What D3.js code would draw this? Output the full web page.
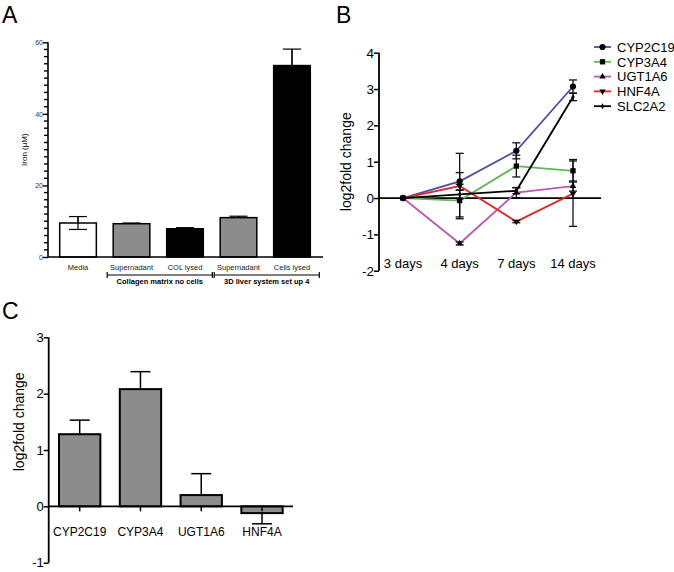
<!DOCTYPE html>
<html><head><meta charset="utf-8">
<script src="https://cdn.jsdelivr.net/npm/d3@7"></script>
<style>body{margin:0;background:#fff}svg{font-family:"Liberation Sans",Arial,sans-serif}</style>
</head><body>
<svg id="c" width="674" height="572"></svg>
<script>
// Panel A data
const aCategories = ["Media","Supernadant","COL lysed","Supernadant","Cells lysed"];
const aValues = [9.5, 9.3, 7.9, 11.0, 53.5];
const aErrors = [1.8, 0.2, 0.3, 0.4, 4.6];
const aFills = ["#ffffff","#8c8c8c","#000000","#8c8c8c","#000000"];
const aGroups = [{label:"Collagen matrix no cells", from:1, to:2},{label:"3D liver system set up 4", from:3, to:4}];
const aTicks = [0,20,40,60];

// Panel B data
const bDays = ["3 days","4 days","7 days","14 days"];
const bSeries = ["CYP2C19","CYP3A4","UGT1A6","HNF4A","SLC2A2"];
const bCYP2C19 = [0, 0.46, 1.30, 3.07];
const bCYP3A4 = [0, -0.07, 0.88, 0.75];
const bUGT1A6 = [0, -1.25, 0.15, 0.33];
const bHNF4A = [0, 0.33, -0.65, 0.12];
const bSLC2A2 = [0, 0.10, 0.20, 2.78];
const bErrCYP2C19 = [0, 0.24, 0.22, 0.18];
const bErrCYP3A4 = [0, 0.45, 0.30, 0.31];
const bErrUGT1A6 = [0, 0.04, 0.14, 0.14];
const bErrHNF4A = [0, 0.90, 0.03, 0.90];
const bErrSLC2A2 = [0, 0.12, 0.08, 0.10];
const bColors = ["#4b4fa3","#5dba52","#b55bb4","#e3262b","#000000"];
const bTicks = [-2,-1,0,1,2,3,4];

// Panel C data
const cGenes = ["CYP2C19","CYP3A4","UGT1A6","HNF4A"];
const cValues = [1.28, 2.08, 0.20, -0.12];
const cErrors = [0.25, 0.31, 0.38, -0.19];
const cTicks = [-1,0,1,2,3];

const svg = d3.select("#c");

// ---------- Panel A ----------
svg.append("text").attr("x",2).attr("y",23).attr("font-size",23).text("A");
{
  const g = svg.append("g");
  const y = d3.scaleLinear().domain([0,60]).range([257,42.3]);
  const x = d3.scaleBand().domain(d3.range(aCategories.length)).range([49,321]).paddingInner(0.315).paddingOuter(0.2);
  aValues.forEach((v,i)=>{
    const cx = x(i)+x.bandwidth()/2;
    g.append("line").attr("x1",cx).attr("x2",cx).attr("y1",y(v+aErrors[i])).attr("y2",y(v-aErrors[i])).attr("stroke","#000").attr("stroke-width",1.2);
    [v+aErrors[i], v-aErrors[i]].forEach(e=>g.append("line").attr("x1",cx-9).attr("x2",cx+9).attr("y1",y(e)).attr("y2",y(e)).attr("stroke","#000").attr("stroke-width",1.2));
    g.append("rect").attr("x",x(i)).attr("y",y(v)).attr("width",x.bandwidth()).attr("height",y(0)-y(v))
      .attr("fill",aFills[i]).attr("stroke","#000").attr("stroke-width",1.5);
    g.append("line").attr("x1",cx).attr("x2",cx).attr("y1",y(v+aErrors[i])).attr("y2",y(v)).attr("stroke","#000").attr("stroke-width",1.2);
    if(aFills[i]==="#ffffff"){
      g.append("line").attr("x1",cx).attr("x2",cx).attr("y1",y(v)).attr("y2",y(v-aErrors[i])).attr("stroke","#000").attr("stroke-width",1.2);
      g.append("line").attr("x1",cx-9).attr("x2",cx+9).attr("y1",y(v-aErrors[i])).attr("y2",y(v-aErrors[i])).attr("stroke","#000").attr("stroke-width",1.2);
    }
    g.append("text").attr("x",cx).attr("y",270).attr("text-anchor","middle").attr("font-size",7.5).attr("fill","#222").text(aCategories[i]);
  });
  const ag = g.append("g").attr("transform","translate(48,0)").call(d3.axisLeft(y).tickValues(aTicks).tickSize(5).tickFormat(d3.format("d")));
  ag.select(".domain").attr("stroke-width",1.6).attr("d","M0,"+y(60)+"V"+y(0));
  ag.selectAll(".tick line").attr("stroke","#000").attr("stroke-width",1.4);
  ag.selectAll(".tick text").attr("font-size",7).attr("fill","#333").attr("x",-5);
  // minor ticks
  ag.selectAll(".minor").data(d3.range(0,61,2).filter(d=>!aTicks.includes(d))).enter().append("line")
    .attr("class","minor").attr("x1",0).attr("x2",-4).attr("y1",d=>y(d)).attr("y2",d=>y(d))
    .attr("stroke","#000").attr("stroke-width",1.4);
  g.append("line").attr("x1",48).attr("x2",323).attr("y1",y(0)).attr("y2",y(0)).attr("stroke","#000").attr("stroke-width",1.5);
  g.append("text").attr("transform","translate(27,"+y(30)+") rotate(-90)").attr("text-anchor","middle").attr("font-size",8).text("Iron (μM)");
  aGroups.forEach(gr=>{
    const x1 = x(gr.from)-6, x2 = x(gr.to)+x.bandwidth()+9;
    g.append("line").attr("x1",x1).attr("x2",x2).attr("y1",275).attr("y2",275).attr("stroke","#000").attr("stroke-width",1.2);
    [x1,x2].forEach(xx=>g.append("line").attr("x1",xx).attr("x2",xx).attr("y1",272).attr("y2",278).attr("stroke","#000").attr("stroke-width",1.2));
    g.append("text").attr("x",(x1+x2)/2).attr("y",284).attr("text-anchor","middle").attr("font-size",7.5).attr("font-weight","bold").text(gr.label);
  });
}

// ---------- Panel B ----------
svg.append("text").attr("x",336).attr("y",23).attr("font-size",23).text("B");
{
  const g = svg.append("g");
  const y = d3.scaleLinear().domain([-2,4]).range([270.7,52.7]);
  const x = d3.scalePoint().domain(bDays).range([403,573]);
  const vals = [bCYP2C19,bCYP3A4,bUGT1A6,bHNF4A,bSLC2A2];
  const errs = [bErrCYP2C19,bErrCYP3A4,bErrUGT1A6,bErrHNF4A,bErrSLC2A2];
  g.append("line").attr("x1",379).attr("x2",601).attr("y1",y(0)).attr("y2",y(0)).attr("stroke","#000").attr("stroke-width",1.8);
  const line = d3.line().x((d,i)=>x(bDays[i])).y(d=>y(d));
  vals.forEach((v,s)=>{
    g.append("path").attr("d",line(v)).attr("fill","none").attr("stroke",bColors[s]).attr("stroke-width",1.8);
  });
  vals.forEach((v,s)=>{
    v.forEach((d,i)=>{
      const e = errs[s][i]; if(!e) return;
      const cx = x(bDays[i]);
      g.append("line").attr("x1",cx).attr("x2",cx).attr("y1",y(d+e)).attr("y2",y(d-e)).attr("stroke","#111").attr("stroke-width",1.3);
      [d+e,d-e].forEach(t=>g.append("line").attr("x1",cx-4).attr("x2",cx+4).attr("y1",y(t)).attr("y2",y(t)).attr("stroke","#111").attr("stroke-width",1.3));
    });
  });
  const sym = [d3.symbolCircle,d3.symbolSquare,d3.symbolTriangle,d3.symbolTriangle,d3.symbolDiamond];
  const sz = [30,28,18,18,10];
  const rot = [0,0,0,180,0];
  function marker(sel,s,cx,cy){
    sel.append("path").attr("d",d3.symbol().type(sym[s]).size(sz[s])()).attr("transform","translate("+cx+","+cy+") rotate("+rot[s]+")").attr("fill","#000");
  }
  vals.forEach((v,s)=>v.forEach((d,i)=>marker(g,s,x(bDays[i]),y(d))));
  const ag = g.append("g").attr("transform","translate(379,0)").call(d3.axisLeft(y).tickValues(bTicks).tickSize(5).tickFormat(d3.format("d")));
  ag.select(".domain").attr("stroke-width",1.8).attr("d","M0,"+y(4)+"V"+y(-2));
  ag.selectAll(".tick line").attr("stroke-width",1.5);
  ag.selectAll(".tick text").attr("font-size",13.5).attr("x",-5).text(d=>d<0?"-"+Math.abs(d):d);
  bDays.forEach(d=>g.append("text").attr("x",x(d)).attr("y",268).attr("text-anchor","middle").attr("font-size",13).text(d));
  g.append("text").attr("transform","translate(351,"+y(1)+") rotate(-90)").attr("text-anchor","middle").attr("font-size",14).text("log2fold change");
  bSeries.forEach((n,s)=>{
    const yy = 47 + s*14.8;
    g.append("line").attr("x1",594).attr("x2",611).attr("y1",yy).attr("y2",yy).attr("stroke",bColors[s]).attr("stroke-width",1.8);
    marker(g,s,602.5,yy);
    g.append("text").attr("x",617).attr("y",yy+4.8).attr("font-size",13).text(n);
  });
}

// ---------- Panel C ----------
svg.append("text").attr("x",2).attr("y",319).attr("font-size",23).text("C");
{
  const g = svg.append("g");
  const y = d3.scaleLinear().domain([-1,3]).range([562.7,337.3]);
  const x = d3.scaleBand().domain(cGenes).range([48.7,293]).paddingInner(0.32).paddingOuter(0.17);
  cValues.forEach((v,i)=>{
    const cx = x(cGenes[i])+x.bandwidth()/2;
    const top = v+cErrors[i];
    g.append("line").attr("x1",cx).attr("x2",cx).attr("y1",y(v)).attr("y2",y(top)).attr("stroke","#000").attr("stroke-width",1.5);
    g.append("line").attr("x1",cx-10).attr("x2",cx+10).attr("y1",y(top)).attr("y2",y(top)).attr("stroke","#000").attr("stroke-width",1.5);
    g.append("rect").attr("x",x(cGenes[i])).attr("y",y(Math.max(v,0))).attr("width",x.bandwidth()).attr("height",Math.abs(y(v)-y(0)))
      .attr("fill","#8c8c8c").attr("stroke","#000").attr("stroke-width",2);
    g.append("line").attr("x1",cx).attr("x2",cx).attr("y1",y(0)).attr("y2",y(0)+5).attr("stroke","#000").attr("stroke-width",1.5);
    g.append("text").attr("x",cx).attr("y",536).attr("text-anchor","middle").attr("font-size",12).text(cGenes[i]);
  });
  g.append("line").attr("x1",48.7).attr("x2",293).attr("y1",y(0)).attr("y2",y(0)).attr("stroke","#000").attr("stroke-width",1.8);
  const ag = g.append("g").attr("transform","translate(48.7,0)").call(d3.axisLeft(y).tickValues(cTicks).tickSize(5).tickFormat(d3.format("d")));
  ag.select(".domain").attr("stroke-width",1.8).attr("d","M0,"+y(3)+"V"+y(-1));
  ag.selectAll(".tick line").attr("stroke-width",1.5);
  ag.selectAll(".tick text").attr("font-size",13).attr("x",-5).text(d=>d<0?"-"+Math.abs(d):d);
  g.append("text").attr("transform","translate(24,"+y(1.5)+") rotate(-90)").attr("text-anchor","middle").attr("font-size",14).text("log2fold change");
}
</script>
</body></html>
